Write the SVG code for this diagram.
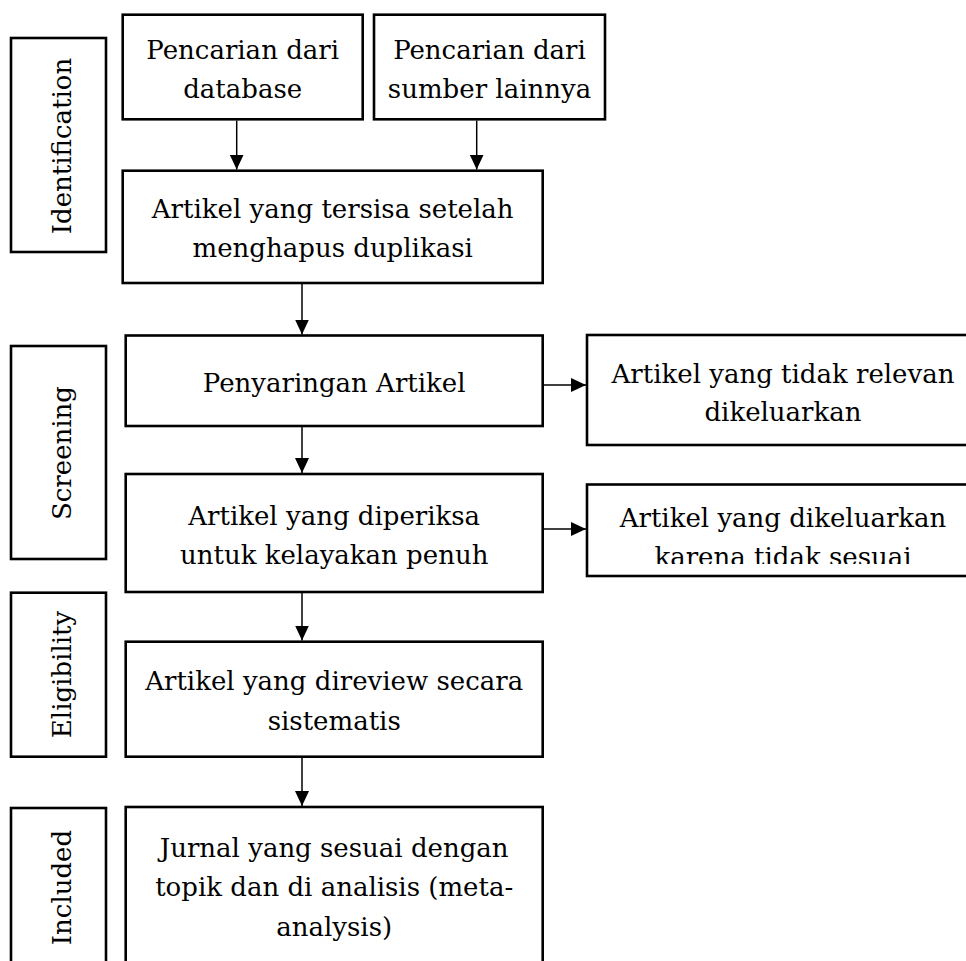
<svg xmlns="http://www.w3.org/2000/svg" width="966" height="961" viewBox="0 0 966 961">
<style>
.box{fill:#fff;stroke:#000;stroke-width:2.6}
.lbl{font-family:"DejaVu Serif","Liberation Serif",serif;font-size:26px;fill:#000;text-anchor:middle}
.conn{stroke:#000;stroke-width:1.5;fill:none;marker-end:url(#ah)}
</style>
<defs>
<marker id="ah" markerUnits="userSpaceOnUse" markerWidth="15" markerHeight="14" refX="15" refY="7" orient="auto">
<path d="M0,0 L15,7 L0,14 z" fill="#000"/>
</marker>
<clipPath id="clipR2"><rect x="587" y="484" width="392" height="80"/></clipPath>
</defs>
<rect width="966" height="961" fill="#fff"/>
<g id="stage-identification">
<rect class="box" x="11" y="38" width="95" height="214"/>
<text class="lbl" transform="translate(71,146) rotate(-90)">Identification</text>
</g>
<g id="stage-screening">
<rect class="box" x="11" y="346" width="95" height="213"/>
<text class="lbl" transform="translate(71,453) rotate(-90)">Screening</text>
</g>
<g id="stage-eligibility">
<rect class="box" x="11" y="592.7" width="95" height="164"/>
<text class="lbl" transform="translate(71,674.5) rotate(-90)">Eligibility</text>
</g>
<g id="stage-included">
<rect class="box" x="11" y="808" width="95" height="170"/>
<text class="lbl" transform="translate(71,887.5) rotate(-90)">Included</text>
</g>
<g id="n-database">
<rect class="box" x="122.7" y="14.7" width="240" height="104.6"/>
<text class="lbl" x="242.7" y="59.3">Pencarian dari</text>
<text class="lbl" x="242.7" y="98">database</text>
</g>
<g id="n-lainnya">
<rect class="box" x="374" y="14.7" width="231" height="104.6"/>
<text class="lbl" x="489.5" y="59.3">Pencarian dari</text>
<text class="lbl" x="489.5" y="98">sumber lainnya</text>
</g>
<g id="n-tersisa">
<rect class="box" x="122.7" y="170.7" width="420" height="112.3"/>
<text class="lbl" x="332.7" y="218">Artikel yang tersisa setelah</text>
<text class="lbl" x="332.7" y="257">menghapus duplikasi</text>
</g>
<g id="n-penyaringan">
<rect class="box" x="125.7" y="335.5" width="417" height="90.5"/>
<text class="lbl" x="334.2" y="391.7">Penyaringan Artikel</text>
</g>
<g id="n-tidak-relevan">
<rect class="box" x="587" y="335" width="392" height="110"/>
<text class="lbl" x="783" y="382.7">Artikel yang tidak relevan</text>
<text class="lbl" x="783" y="420.5">dikeluarkan</text>
</g>
<g id="n-diperiksa">
<rect class="box" x="125.7" y="474" width="417" height="118"/>
<text class="lbl" x="334.2" y="525">Artikel yang diperiksa</text>
<text class="lbl" x="334.2" y="563.5">untuk kelayakan penuh</text>
</g>
<g id="n-dikeluarkan">
<rect class="box" x="587" y="484.5" width="392" height="91.5"/>
<text class="lbl" x="783" y="527.3">Artikel yang dikeluarkan</text>
<text class="lbl" x="783" y="566" clip-path="url(#clipR2)">karena tidak sesuai</text>
</g>
<g id="n-direview">
<rect class="box" x="125.7" y="641.7" width="417" height="115"/>
<text class="lbl" x="334.2" y="690">Artikel yang direview secara</text>
<text class="lbl" x="334.2" y="730">sistematis</text>
</g>
<g id="n-jurnal">
<rect class="box" x="125.7" y="807" width="417" height="170"/>
<text class="lbl" x="334.2" y="856.7">Jurnal yang sesuai dengan</text>
<text class="lbl" x="334.2" y="896">topik dan di analisis (meta-</text>
<text class="lbl" x="334.2" y="935.5">analysis)</text>
</g>
<g id="connectors">
<line class="conn" x1="236.7" y1="120.5" x2="236.7" y2="169.5"/>
<line class="conn" x1="476.7" y1="120.5" x2="476.7" y2="169.5"/>
<line class="conn" x1="302" y1="284" x2="302" y2="334.5"/>
<line class="conn" x1="302" y1="427" x2="302" y2="473"/>
<line class="conn" x1="302" y1="593" x2="302" y2="640.5"/>
<line class="conn" x1="302" y1="758" x2="302" y2="806"/>
<line class="conn" x1="543.8" y1="385" x2="586" y2="385"/>
<line class="conn" x1="543.8" y1="529" x2="586" y2="529"/>
</g>
</svg>
